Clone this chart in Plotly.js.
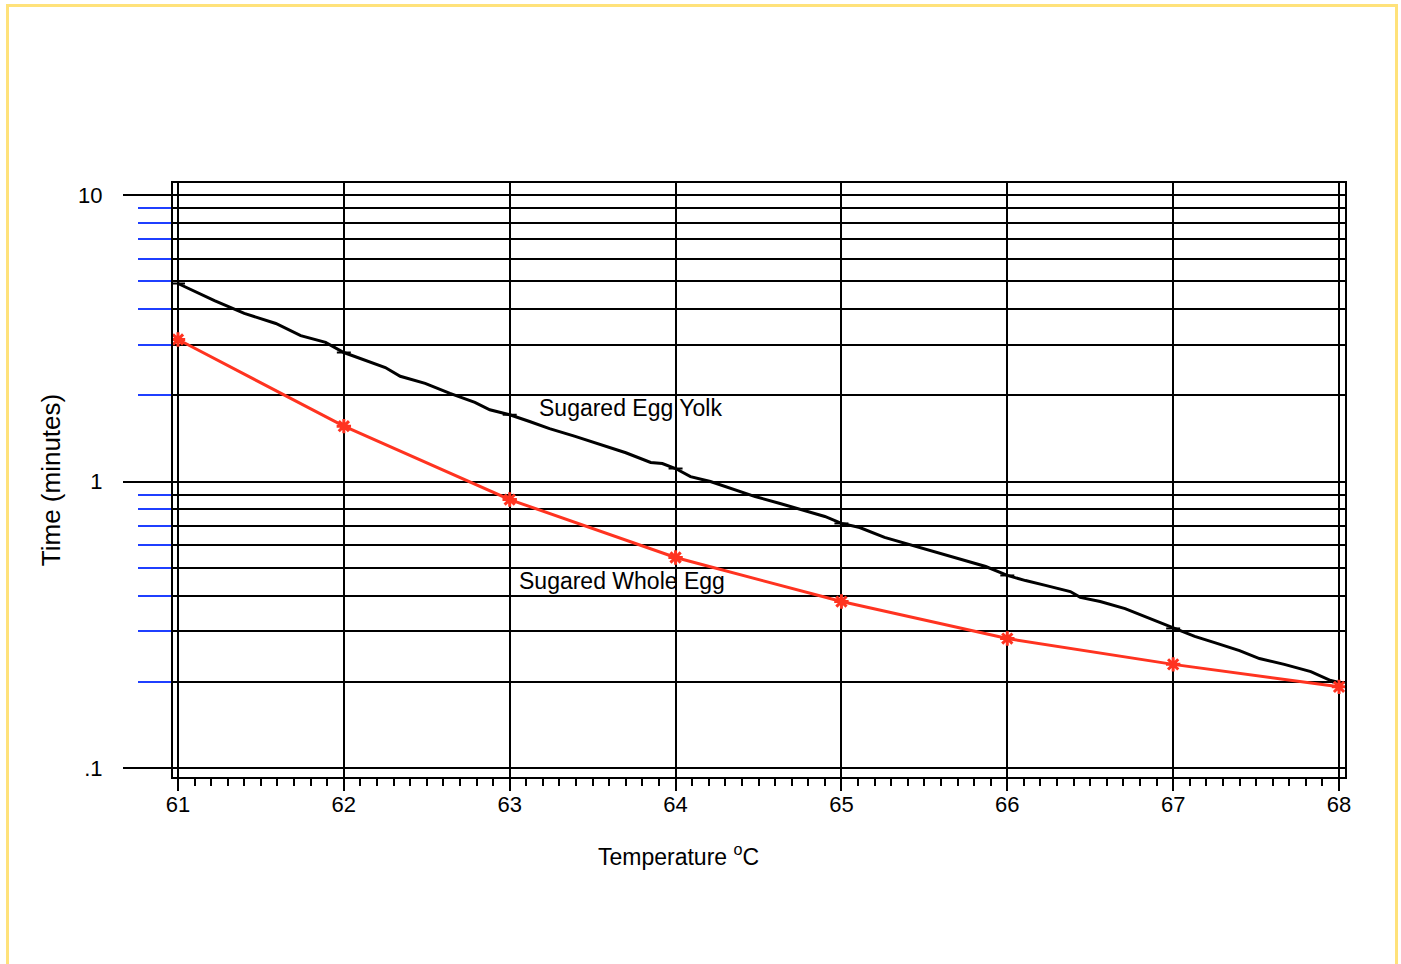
<!DOCTYPE html>
<html>
<head>
<meta charset="utf-8">
<script src="https://cdn.plot.ly/plotly-3.0.1.min.js"></script>
<style>
  html, body { margin: 0; padding: 0; background: #ffffff; overflow: hidden; }
  #chart { width: 1401px; height: 964px; }
  #frame { position: absolute; left: 6px; top: 4px; width: 1386px; height: 1000px;
           border: 3px solid #ffe27a; pointer-events: none; }
</style>
</head>
<body>
<div id="chart"></div>
<div id="frame"></div>
<script>
// Sugared Egg Yolk (black curve)
const yolkTemp = [61.00, 61.22, 61.40, 61.59, 61.74, 61.89, 62.00, 62.16, 62.25, 62.34, 62.49, 62.64, 62.79, 62.88,
  63.00, 63.12, 63.24, 63.39, 63.54, 63.70, 63.85, 63.92, 64.00, 64.09, 64.21, 64.33, 64.48, 64.63, 64.75, 64.90,
  65.00, 65.11, 65.26, 65.41, 65.56, 65.72, 65.87, 66.00, 66.11, 66.23, 66.38, 66.44, 66.56, 66.71, 66.86,
  67.00, 67.13, 67.25, 67.40, 67.52, 67.67, 67.83, 67.95, 68.00];
const yolkTime = [4.91, 4.28, 3.86, 3.56, 3.23, 3.06, 2.82, 2.60, 2.50, 2.33, 2.20, 2.03, 1.89, 1.78,
  1.71, 1.62, 1.53, 1.44, 1.35, 1.26, 1.165, 1.155, 1.11, 1.04, 1.00, 0.945, 0.886, 0.838, 0.798, 0.755,
  0.714, 0.691, 0.638, 0.603, 0.570, 0.534, 0.505, 0.470, 0.451, 0.434, 0.413, 0.394, 0.381, 0.360, 0.332,
  0.307, 0.288, 0.274, 0.257, 0.241, 0.230, 0.217, 0.202, 0.199];
// integer-temperature marks on the yolk curve
const yolkMarkTemp = [61, 62, 63, 64, 65, 66, 67, 68];
const yolkMarkTime = [4.91, 2.82, 1.71, 1.11, 0.714, 0.470, 0.307, 0.199];

// Sugared Whole Egg (red curve)
const wholeTemp = [61, 62, 63, 64, 65, 66, 67, 68];
const wholeTime = [3.13, 1.56, 0.865, 0.543, 0.381, 0.283, 0.230, 0.192];

// axis ticks
const xTicks = [61, 62, 63, 64, 65, 66, 67, 68];
const yMajorVals = [0.1, 1, 10];
const yMajorText = ['.1', '1', '10'];
const yMinorVals = [0.2, 0.3, 0.4, 0.5, 0.6, 0.7, 0.8, 0.9, 2, 3, 4, 5, 6, 7, 8, 9];

const labels = [
  {text: 'Sugared Egg Yolk', x: 63.165, y: 1.80},
  {text: 'Sugared Whole Egg', x: 63.044, y: 0.451}
];
const xTitle = 'Temperature <sup>o</sup>C';
const xTitleAt = 64.02;

const FONT = 'Liberation Sans, Arial, sans-serif';

const traces = [
  {
    x: yolkTemp, y: yolkTime, mode: 'lines', type: 'scatter',
    line: {color: '#000000', width: 3}
  },
  {
    x: yolkMarkTemp, y: yolkMarkTime, mode: 'markers', type: 'scatter',
    marker: {symbol: 'line-ew-open', size: 10, color: '#000000', line: {color: '#000000', width: 2}}
  },
  {
    x: wholeTemp, y: wholeTime, mode: 'lines+markers', type: 'scatter',
    line: {color: '#ff3320', width: 3},
    marker: {symbol: 'asterisk-open', size: 12, color: '#ff3320', line: {color: '#ff3320', width: 3}}
  }
];

const layout = {
  width: 1401, height: 964,
  margin: {l: 173, r: 56, t: 183, b: 187, pad: 0},
  paper_bgcolor: '#ffffff', plot_bgcolor: '#ffffff',
  showlegend: false, hovermode: false,
  font: {family: FONT, size: 22, color: '#000000'},
  xaxis: {
    range: [60.970, 68.036],
    tickvals: xTicks, ticktext: xTicks.map(String),
    ticks: 'outside', ticklen: 12, tickwidth: 2, tickcolor: '#000000',
    ticklabelstandoff: -5,
    showgrid: true, gridcolor: '#000000', gridwidth: 2,
    showline: true, linecolor: '#000000', linewidth: 2, mirror: true,
    zeroline: false,
    tickfont: {family: FONT, size: 22, color: '#000000'},
    minor: {dtick: 0.1, ticks: 'outside', ticklen: 7, tickwidth: 2, tickcolor: '#000000', showgrid: false}
  },
  yaxis: {
    type: 'log', range: [-1.0314, 1.0419],
    tickmode: 'array', tickvals: yMajorVals, ticktext: yMajorText,
    ticks: 'outside', ticklen: 48, tickwidth: 2, tickcolor: '#000000',
    ticklabelstandoff: 16,
    showgrid: true, gridcolor: '#000000', gridwidth: 2,
    showline: true, linecolor: '#000000', linewidth: 2, mirror: true,
    zeroline: false,
    tickfont: {family: FONT, size: 22, color: '#000000'},
    minor: {tickmode: 'array', tickvals: yMinorVals, ticks: 'outside', ticklen: 33, tickwidth: 2,
            tickcolor: '#1f3fff', showgrid: true, gridcolor: '#000000', gridwidth: 2},
    title: {text: 'Time (minutes)', font: {family: FONT, size: 26, color: '#000000'}, standoff: 10}
  },
  annotations: labels.map(l => ({
    text: l.text, x: l.x, y: Math.log10(l.y), xref: 'x', yref: 'y',
    xanchor: 'left', yanchor: 'middle', showarrow: false,
    font: {family: FONT, size: 23, color: '#000000'}
  })).concat([{
    text: xTitle, x: xTitleAt, xref: 'x', y: -0.132, yref: 'paper',
    xanchor: 'center', yanchor: 'middle', showarrow: false,
    font: {family: FONT, size: 23, color: '#000000'}
  }])
};

Plotly.newPlot('chart', traces, layout, {displayModeBar: false, staticPlot: true});
</script>
</body>
</html>
